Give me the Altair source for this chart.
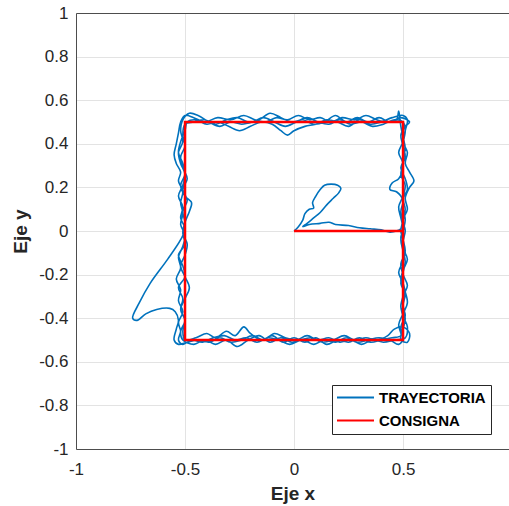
import altair as alt
import pandas as pd

# ---------------- data ----------------
x_ticks = [-1, -0.5, 0, 0.5]
y_ticks = [-1, -0.8, -0.6, -0.4, -0.2, 0, 0.2, 0.4, 0.6, 0.8, 1]
series_names = ["TRAYECTORIA", "CONSIGNA"]
series_colors = ["#0072BD", "#FF0000"]

consigna_x = [0, 0.5, 0.5, -0.5, -0.5, 0.5, 0.5]
consigna_y = [0, 0, 0.5, 0.5, -0.5, -0.5, 0]

start_path = [(0.00, 0.00), (0.02, 0.02), (0.04, 0.05), (0.05, 0.08), (0.07, 0.10), (0.09, 0.105),
              (0.085, 0.13), (0.10, 0.16), (0.12, 0.19), (0.14, 0.21), (0.17, 0.215), (0.20, 0.21),
              (0.215, 0.195), (0.205, 0.175), (0.18, 0.15), (0.15, 0.12), (0.12, 0.085), (0.09, 0.06),
              (0.06, 0.035), (0.04, 0.02), (0.07, 0.03), (0.12, 0.035), (0.16, 0.04), (0.19, 0.03),
              (0.25, 0.025), (0.30, 0.015), (0.35, 0.01), (0.40, 0.005), (0.44, -0.005), (0.47, 0.0),
              (0.49, 0.01)]

lap1 = [(0.50, 0.04), (0.49, 0.09), (0.50, 0.14), (0.47, 0.18), (0.44, 0.19), (0.45, 0.22), (0.48, 0.24),
        (0.50, 0.28), (0.50, 0.33), (0.51, 0.38), (0.50, 0.43), (0.49, 0.48), (0.48, 0.55), (0.47, 0.51),
        (0.43, 0.50), (0.38, 0.51), (0.33, 0.53), (0.28, 0.51), (0.22, 0.52), (0.17, 0.50), (0.12, 0.52),
        (0.07, 0.51), (0.02, 0.53), (-0.03, 0.51), (-0.08, 0.52), (-0.13, 0.50), (-0.18, 0.51),
        (-0.23, 0.53), (-0.29, 0.51), (-0.35, 0.52), (-0.41, 0.50), (-0.46, 0.52), (-0.50, 0.53),
        (-0.52, 0.50),
        (-0.53, 0.45), (-0.54, 0.40), (-0.55, 0.35), (-0.54, 0.31), (-0.52, 0.27), (-0.53, 0.23),
        (-0.51, 0.18), (-0.52, 0.13), (-0.51, 0.08), (-0.52, 0.03), (-0.50, -0.02), (-0.51, -0.07),
        (-0.53, -0.12), (-0.52, -0.17), (-0.54, -0.22), (-0.52, -0.27), (-0.53, -0.32), (-0.51, -0.37),
        (-0.53, -0.42), (-0.52, -0.46), (-0.53, -0.50), (-0.51, -0.52),
        (-0.47, -0.50), (-0.42, -0.51), (-0.37, -0.49), (-0.32, -0.48), (-0.27, -0.50), (-0.22, -0.49),
        (-0.17, -0.51), (-0.12, -0.49), (-0.07, -0.50), (-0.02, -0.52), (0.03, -0.50), (0.08, -0.49),
        (0.13, -0.51), (0.18, -0.50), (0.23, -0.48), (0.28, -0.50), (0.33, -0.49), (0.38, -0.50),
        (0.43, -0.48), (0.46, -0.45), (0.50, -0.44), (0.53, -0.47), (0.52, -0.51), (0.49, -0.50),
        (0.50, -0.45), (0.51, -0.40), (0.49, -0.35), (0.50, -0.30), (0.52, -0.25), (0.50, -0.20),
        (0.49, -0.15), (0.51, -0.10), (0.50, -0.05), (0.51, 0.00)]

lap2 = [(0.50, 0.05), (0.52, 0.10), (0.51, 0.15), (0.53, 0.20), (0.55, 0.23), (0.53, 0.27), (0.51, 0.31),
        (0.52, 0.36), (0.50, 0.41), (0.51, 0.46), (0.52, 0.51), (0.50, 0.53),
        (0.45, 0.52), (0.40, 0.50), (0.35, 0.49), (0.30, 0.51), (0.25, 0.48), (0.20, 0.50), (0.15, 0.51),
        (0.10, 0.49), (0.05, 0.48), (0.00, 0.46), (-0.03, 0.44), (-0.06, 0.46), (-0.10, 0.49),
        (-0.15, 0.50), (-0.20, 0.48), (-0.25, 0.46), (-0.30, 0.48), (-0.35, 0.50), (-0.40, 0.49),
        (-0.45, 0.51), (-0.49, 0.50),
        (-0.50, 0.46), (-0.52, 0.41), (-0.53, 0.36), (-0.51, 0.31), (-0.50, 0.26), (-0.52, 0.21),
        (-0.50, 0.16), (-0.47, 0.13), (-0.48, 0.09), (-0.50, 0.04), (-0.51, -0.01), (-0.49, -0.06),
        (-0.50, -0.11), (-0.52, -0.16), (-0.50, -0.21), (-0.48, -0.26), (-0.50, -0.31), (-0.52, -0.36),
        (-0.50, -0.41), (-0.51, -0.46), (-0.50, -0.50),
        (-0.45, -0.49), (-0.40, -0.47), (-0.36, -0.49), (-0.31, -0.46), (-0.27, -0.48), (-0.23, -0.44),
        (-0.20, -0.47), (-0.15, -0.50), (-0.10, -0.48), (-0.05, -0.51), (0.00, -0.49), (0.05, -0.51),
        (0.10, -0.49), (0.15, -0.52), (0.20, -0.50), (0.25, -0.51), (0.30, -0.49), (0.35, -0.51),
        (0.40, -0.50), (0.45, -0.49), (0.49, -0.48),
        (0.48, -0.43), (0.50, -0.38), (0.52, -0.33), (0.51, -0.28), (0.49, -0.23), (0.50, -0.18),
        (0.52, -0.13), (0.50, -0.08), (0.49, -0.03), (0.50, 0.01)]

lap3 = [(0.49, 0.06), (0.48, 0.11), (0.50, 0.16), (0.51, 0.21), (0.49, 0.26), (0.50, 0.31), (0.48, 0.36),
        (0.50, 0.41), (0.51, 0.46), (0.50, 0.50),
        (0.46, 0.51), (0.41, 0.49), (0.36, 0.48), (0.31, 0.50), (0.26, 0.49), (0.21, 0.51), (0.16, 0.49),
        (0.11, 0.50), (0.06, 0.52), (0.01, 0.50), (-0.04, 0.48), (-0.09, 0.50), (-0.14, 0.52),
        (-0.19, 0.50), (-0.24, 0.49), (-0.29, 0.50), (-0.34, 0.48), (-0.39, 0.50), (-0.44, 0.53),
        (-0.48, 0.54), (-0.51, 0.51),
        (-0.52, 0.46), (-0.51, 0.41), (-0.53, 0.36), (-0.52, 0.31), (-0.50, 0.26), (-0.51, 0.21),
        (-0.53, 0.16), (-0.51, 0.11), (-0.52, 0.06), (-0.50, 0.01), (-0.52, -0.04), (-0.58, -0.13),
        (-0.66, -0.24), (-0.71, -0.33), (-0.74, -0.40), (-0.72, -0.41), (-0.68, -0.38), (-0.63, -0.36),
        (-0.57, -0.355), (-0.545, -0.37), (-0.53, -0.41), (-0.54, -0.45), (-0.55, -0.50), (-0.53, -0.52),
        (-0.49, -0.51), (-0.44, -0.50), (-0.39, -0.51), (-0.34, -0.49), (-0.29, -0.51), (-0.24, -0.50),
        (-0.19, -0.48), (-0.14, -0.50), (-0.09, -0.47), (-0.04, -0.49), (0.01, -0.50), (0.06, -0.48),
        (0.11, -0.50), (0.16, -0.49), (0.21, -0.51), (0.26, -0.50), (0.31, -0.52), (0.36, -0.50),
        (0.41, -0.51), (0.46, -0.50), (0.51, -0.49),
        (0.52, -0.44), (0.50, -0.39), (0.49, -0.34), (0.51, -0.29), (0.50, -0.24), (0.48, -0.19),
        (0.50, -0.14), (0.51, -0.09), (0.50, -0.04), (0.49, 0.00)]

lap4 = [(0.50, 0.05), (0.51, 0.10), (0.50, 0.15), (0.52, 0.19), (0.51, 0.24), (0.49, 0.29), (0.51, 0.34),
        (0.50, 0.39), (0.49, 0.44), (0.51, 0.48), (0.53, 0.50),
        (0.49, 0.52), (0.44, 0.50), (0.39, 0.52), (0.34, 0.50), (0.29, 0.52), (0.24, 0.50), (0.19, 0.53),
        (0.14, 0.50), (0.09, 0.49), (0.04, 0.51), (-0.01, 0.50), (-0.06, 0.52), (-0.11, 0.54),
        (-0.16, 0.51), (-0.21, 0.50), (-0.26, 0.52), (-0.31, 0.51), (-0.36, 0.49), (-0.41, 0.51),
        (-0.46, 0.50), (-0.50, 0.49),
        (-0.51, 0.44), (-0.50, 0.39), (-0.52, 0.34), (-0.51, 0.29), (-0.49, 0.24), (-0.51, 0.19),
        (-0.49, 0.14), (-0.51, 0.09), (-0.50, 0.04), (-0.51, -0.01), (-0.50, -0.06), (-0.53, -0.11),
        (-0.51, -0.16), (-0.50, -0.21), (-0.53, -0.26), (-0.51, -0.31), (-0.52, -0.36), (-0.50, -0.41),
        (-0.52, -0.46), (-0.51, -0.50),
        (-0.46, -0.52), (-0.41, -0.50), (-0.36, -0.52), (-0.31, -0.50), (-0.26, -0.53), (-0.21, -0.50),
        (-0.16, -0.48), (-0.11, -0.51), (-0.06, -0.49), (-0.01, -0.51), (0.04, -0.50), (0.09, -0.52),
        (0.14, -0.50), (0.19, -0.51), (0.24, -0.49), (0.29, -0.51), (0.34, -0.50), (0.39, -0.49),
        (0.44, -0.50), (0.48, -0.52), (0.50, -0.49),
        (0.49, -0.44), (0.51, -0.39), (0.50, -0.34), (0.51, -0.29), (0.49, -0.24), (0.50, -0.19),
        (0.51, -0.14), (0.50, -0.09), (0.49, -0.04), (0.50, 0.00), (0.51, 0.05), (0.50, 0.10)]

# ---------------- tables ----------------
traj = start_path + lap1 + lap2 + lap3 + lap4
df_t = pd.DataFrame({
    "x": [p[0] for p in traj],
    "y": [p[1] for p in traj],
    "i": list(range(len(traj))),
    "serie": series_names[0],
})
df_c = pd.DataFrame({
    "x": consigna_x,
    "y": consigna_y,
    "i": list(range(len(consigna_x))),
    "serie": series_names[1],
})

FONT = "Liberation Sans"
TXT = "#262626"
AX = "#4d4d4d"
GRID = "#e3e3e3"

xscale = alt.Scale(domain=[-1, 0.986], nice=False, zero=False)
yscale = alt.Scale(domain=[-1, 1], nice=False, zero=False)

color = alt.Color(
    "serie:N",
    scale=alt.Scale(domain=series_names, range=series_colors),
    legend=alt.Legend(
        orient="none", legendX=256, legendY=372, title=None,
        symbolType="M-3,0H3", symbolSize=152, symbolStrokeWidth=2,
        symbolOffset=11, labelOffset=16, rowPadding=7,
        labelFont=FONT, labelFontSize=15, labelFontWeight="bold", labelColor="black",
        fillColor="white", strokeColor=TXT, padding=5, cornerRadius=0,
    ),
)

x_bottom = alt.Axis(
    values=x_ticks, labelExpr="'' + datum.value", title="Eje x",
    grid=True, gridColor=GRID, ticks=False, tickSize=0,
    domainColor=AX, labelFlush=False, labelOverlap=False,
    labelFont=FONT, labelFontSize=17, labelColor=TXT, labelPadding=12,
    titleFont=FONT, titleFontSize=19, titleFontWeight="bold", titleColor=TXT, titlePadding=7,
)
x_top = alt.Axis(
    orient="top", values=x_ticks, labels=False, ticks=False, tickSize=0, grid=False,
    domainColor=AX, title=None,
)
y_left = alt.Axis(
    values=y_ticks, labelExpr="'' + datum.value", title="Eje y",
    grid=True, gridColor=GRID, ticks=False, tickSize=0,
    domainColor=AX, labelOverlap=False,
    labelFont=FONT, labelFontSize=17, labelColor=TXT, labelPadding=8,
    titleFont=FONT, titleFontSize=19, titleFontWeight="bold", titleColor=TXT, titlePadding=8,
)

blue = alt.Chart(df_t).mark_line(strokeWidth=1.6, interpolate="catmull-rom", clip=True).encode(
    x=alt.X("x:Q", scale=xscale, axis=x_bottom),
    y=alt.Y("y:Q", scale=yscale, axis=y_left),
    order="i:Q",
    color=color,
)
red = alt.Chart(df_c).mark_line(strokeWidth=2.5, clip=True).encode(
    x=alt.X("x:Q", scale=xscale, axis=x_top),
    y=alt.Y("y:Q", scale=yscale),
    order="i:Q",
    color=color,
)

chart = (
    alt.layer(blue, red)
    .resolve_axis(x="independent")
    .properties(
        width=433, height=436,
        autosize=alt.AutoSizeParams(type="none"),
        padding={"left": 76, "top": 13, "right": 0, "bottom": 57},
        background="white",
    )
    .configure_view(stroke=None)
)

chart.save("out.html", embed_options={"renderer": "svg", "actions": False})
